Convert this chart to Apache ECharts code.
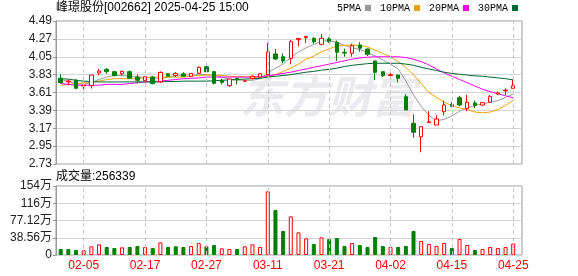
<!DOCTYPE html>
<html><head><meta charset="utf-8">
<script src="https://cdn.jsdelivr.net/npm/echarts@6/dist/echarts.min.js"></script>
<style>html,body{margin:0;padding:0;background:#fff}#c{width:578px;height:276px}</style>
</head><body><div id="c"></div>
<script>
const dates = ['01-23','01-24','01-27','02-05','02-06','02-07','02-10','02-11','02-12','02-13','02-14',
 '02-17','02-18','02-19','02-20','02-21','02-24','02-25','02-26','02-27','02-28',
 '03-03','03-04','03-05','03-06','03-07','03-10','03-11','03-12','03-13','03-14',
 '03-17','03-18','03-19','03-20','03-21','03-24','03-25','03-26','03-27','03-28',
 '03-31','04-01','04-02','04-03','04-07','04-08','04-09','04-10','04-11',
 '04-14','04-15','04-16','04-17','04-18','04-21','04-22','04-23','04-24','04-25'];
const opens  = [3.785,3.74,3.764,3.69,3.694,3.85,3.895,3.866,3.84,3.866,3.80,3.755,3.80,3.743,3.84,3.82,3.84,3.81,3.846,3.927,
 3.866,3.76,3.694,3.785,3.75,3.785,3.80,3.83,4.084,4.05,4.03,4.26,4.285,4.277,4.203,4.27,4.228,4.105,4.092,4.195,
 4.145,3.998,3.866,3.82,3.825,3.558,3.231,3.066,3.24,3.21,3.374,3.46,3.546,3.415,3.48,3.455,3.49,3.59,3.63,3.662];
const closes = [3.731,3.75,3.662,3.70,3.825,3.875,3.866,3.817,3.87,3.785,3.76,3.805,3.72,3.858,3.81,3.845,3.81,3.845,3.92,3.866,
 3.723,3.735,3.776,3.764,3.752,3.81,3.84,4.11,4.022,3.998,4.235,4.275,4.30,4.235,4.277,4.235,4.105,4.095,4.186,4.155,
 4.08,3.858,3.817,3.83,3.785,3.395,3.12,3.189,3.25,3.284,3.456,3.44,3.456,3.49,3.45,3.485,3.558,3.605,3.64,3.694];
const lows   = [3.72,3.70,3.65,3.65,3.66,3.82,3.84,3.81,3.82,3.78,3.72,3.75,3.71,3.73,3.80,3.80,3.80,3.80,3.84,3.85,
 3.71,3.71,3.68,3.71,3.74,3.77,3.79,3.82,4.01,3.97,3.957,4.18,4.22,4.21,4.19,4.22,4.00,4.05,4.05,4.11,
 4.06,3.764,3.80,3.79,3.735,3.395,3.054,2.874,3.24,3.21,3.33,3.43,3.44,3.38,3.42,3.45,3.49,3.58,3.58,3.66];
const highs  = [3.834,3.77,3.77,3.72,3.83,3.90,3.91,3.87,3.88,3.88,3.83,3.81,3.81,3.87,3.85,3.86,3.86,3.85,3.93,3.94,
 3.875,3.78,3.78,3.79,3.76,3.82,3.85,4.22,4.145,4.092,4.256,4.28,4.30,4.29,4.33,4.29,4.25,4.15,4.21,4.23,
 4.15,4.00,3.87,3.86,3.83,3.59,3.342,3.189,3.38,3.33,3.51,3.49,3.57,3.58,3.51,3.49,3.578,3.625,3.66,3.764];
const volumes = [13.4,13.4,11.2,10.4,19.4,23.8,17.9,15.6,17.1,17.9,20.1,17.9,15.6,28.3,17.9,19.4,17.9,20.1,26.8,19.4,
 22.3,14.9,13.4,13.4,19.4,23.8,17.9,142.4,100.6,53.6,86.4,50.7,37.2,24.6,39.5,35.8,38.0,20.1,26.8,22.3,
 17.9,40.2,20.1,17.9,17.9,20.1,53.6,31.3,24.6,20.1,26.8,15.6,35.8,22.3,11.2,13.4,17.9,15.6,17.9,25.63];
const volUp = [0,0,0,1,1,1,0,0,1,0,0,1,0,1,0,0,0,1,1,0,
 0,1,1,0,1,1,1,1,0,0,1,1,1,0,1,0,0,0,1,0,
 0,0,0,1,0,0,0,1,1,1,1,0,1,1,0,1,1,1,1,1];
const ma5 = [3.77,3.75,3.72,3.71,3.73,3.77,3.80,3.82,3.82,3.81,3.80,3.80,3.79,3.78,3.80,3.82,3.825,3.825,3.83,3.83,
 3.82,3.80,3.77,3.765,3.76,3.76,3.78,3.85,3.91,3.96,4.04,4.11,4.16,4.20,4.24,4.25,4.23,4.19,4.16,4.14,
 4.10,4.06,4.01,3.96,3.90,3.75,3.58,3.44,3.33,3.26,3.28,3.32,3.38,3.42,3.45,3.47,3.49,3.51,3.55,3.59];
const ma10 = [3.70,3.71,3.72,3.73,3.73,3.75,3.77,3.78,3.78,3.78,3.78,3.79,3.80,3.80,3.80,3.80,3.80,3.81,3.82,3.825,
 3.825,3.82,3.81,3.805,3.805,3.80,3.80,3.81,3.83,3.87,3.91,3.96,4.02,4.06,4.11,4.15,4.18,4.19,4.195,4.19,
 4.17,4.13,4.09,4.05,3.99,3.92,3.83,3.72,3.61,3.55,3.49,3.45,3.42,3.40,3.37,3.36,3.37,3.40,3.45,3.51];
const ma20 = [3.72,3.71,3.70,3.70,3.70,3.70,3.71,3.71,3.71,3.72,3.73,3.74,3.745,3.75,3.76,3.77,3.78,3.785,3.79,3.80,
 3.80,3.80,3.80,3.80,3.80,3.80,3.805,3.815,3.83,3.845,3.86,3.88,3.90,3.92,3.94,3.96,3.98,4.00,4.02,4.035,
 4.045,4.05,4.05,4.05,4.05,4.04,4.02,3.99,3.95,3.90,3.85,3.81,3.77,3.73,3.69,3.65,3.62,3.595,3.57,3.545];
const ma30 = [3.78,3.775,3.76,3.75,3.745,3.74,3.74,3.74,3.74,3.74,3.74,3.74,3.74,3.74,3.745,3.745,3.75,3.75,3.75,3.75,
 3.755,3.76,3.765,3.77,3.775,3.78,3.785,3.80,3.81,3.82,3.83,3.845,3.86,3.87,3.885,3.895,3.91,3.93,3.945,3.955,
 3.965,3.97,3.97,3.97,3.97,3.96,3.945,3.92,3.90,3.88,3.86,3.845,3.835,3.825,3.815,3.81,3.80,3.79,3.78,3.765];
const labelDates = ['02-05','02-17','02-27','03-11','03-21','04-02','04-15','04-25'];
const priceMin = 2.73, priceMax = 4.49, priceStep = 0.22;
const volMax = 154.24, volStep = 38.56;
const lastVolume = '256339';
const stockTitle = '峰璟股份[002662] 2025-04-25 15:00';

const FONT = '"Liberation Sans","Noto Sans CJK SC",sans-serif';
const RED = '#ff0000', GREEN = '#008000';
const chart = echarts.init(document.getElementById('c'), null, {renderer: 'canvas'});
const slot = 7.67, dataLeft = 56.86, dataWidth = slot * dates.length;
const vlines = {
  silent: true, symbol: ['none','none'], animation: false,
  label: {show: false},
  lineStyle: {type: [4,3], color: '#c8c8c8', width: 1},
  emphasis: {disabled: true},
  data: labelDates.map(d => ({xAxis: d}))
};
const maSeries = (name, data, color) => ({
  name, type: 'line', data, xAxisIndex: 1, yAxisIndex: 1,
  symbol: 'none', showSymbol: false, smooth: false, animation: false,
  lineStyle: {width: 1, color}, itemStyle: {color}, z: 3
});
chart.setOption({
  animation: false,
  textStyle: {fontFamily: FONT},
  title: [
    {text: stockTitle, left: 56, top: 2, padding: 0,
     textStyle: {fontSize: 12, fontWeight: 'normal', color: '#000', fontFamily: FONT}},
    {text: '成交量:' + lastVolume, left: 56, top: 171, padding: 0,
     textStyle: {fontSize: 12, fontWeight: 'normal', color: '#000', fontFamily: FONT}}
  ],
  legend: {
    data: ['5PMA','10PMA','20PMA','30PMA'], left: 337, top: 3, padding: 0,
    itemWidth: 6, itemHeight: 6, itemGap: 9, align: 'right', icon: 'rect',
    selectedMode: false,
    textStyle: {fontFamily: '"Liberation Mono",monospace', fontSize: 10, color: '#000', padding: [0, -1, 0, 0]}
  },
  graphic: [{
    type: 'text', left: 240, top: 74, silent: true, z: -1,
    style: {text: '东方财富', fontSize: 44, fontWeight: 'bold', fontStyle: 'italic',
      fill: '#ebebef', fontFamily: '"Noto Sans CJK SC",sans-serif'}
  }],
  grid: [
    {left: 56, top: 21, width: 466, height: 143, show: true, borderColor: '#999', borderWidth: 1, backgroundColor: 'transparent'},
    {left: dataLeft, top: 21, width: dataWidth, height: 143},
    {left: 56, top: 186, width: 466, height: 69, show: true, borderColor: '#999', borderWidth: 1, backgroundColor: 'transparent'},
    {left: dataLeft, top: 186, width: dataWidth, height: 69}
  ],
  xAxis: [
    {gridIndex: 0, type: 'value', show: false, min: 0, max: 1},
    {gridIndex: 1, type: 'category', data: dates, show: false},
    {gridIndex: 2, type: 'value', show: false, min: 0, max: 1},
    {gridIndex: 3, type: 'category', data: dates,
     axisLine: {show: false}, axisTick: {show: false}, splitLine: {show: false},
     axisLabel: {interval: (i, v) => labelDates.indexOf(v) >= 0, color: RED, fontSize: 12, margin: 5, fontFamily: FONT}}
  ],
  yAxis: [
    {gridIndex: 0, type: 'value', min: priceMin, max: priceMax, interval: priceStep,
     axisLine: {show: true, lineStyle: {color: '#999'}},
     axisTick: {show: true, length: 3, lineStyle: {color: '#999'}},
     axisLabel: {formatter: v => v.toFixed(2), fontSize: 12, color: '#222', margin: 4, fontFamily: FONT},
     splitLine: {show: true, lineStyle: {color: '#d4d4d4', width: 1}}},
    {gridIndex: 1, type: 'value', min: priceMin, max: priceMax, show: false, splitLine: {show: false}},
    {gridIndex: 2, type: 'value', min: 0, max: volMax, interval: volStep,
     axisLine: {show: true, lineStyle: {color: '#999'}},
     axisTick: {show: true, length: 3, lineStyle: {color: '#999'}},
     axisLabel: {fontSize: 12, color: '#222', margin: 4, fontFamily: FONT,
       formatter: v => v === 0 ? '0' : (v >= 100 ? Math.round(v) + '万' : v.toFixed(2) + '万')},
     splitLine: {show: true, lineStyle: {color: '#d4d4d4', width: 1}}},
    {gridIndex: 3, type: 'value', min: 0, max: volMax, show: false, splitLine: {show: false}}
  ],
  series: [
    {type: 'candlestick', xAxisIndex: 1, yAxisIndex: 1, barWidth: 4, z: 4,
     data: dates.map((d, i) => [opens[i], closes[i], lows[i], highs[i]]),
     itemStyle: {color: '#ffffff', color0: GREEN, borderColor: RED, borderColor0: GREEN, borderWidth: 1},
     markLine: vlines},
    maSeries('5PMA', ma5, '#9a9a9a'),
    maSeries('10PMA', ma10, '#f0a000'),
    maSeries('20PMA', ma20, '#ff00ff'),
    maSeries('30PMA', ma30, '#006633'),
    {type: 'bar', xAxisIndex: 3, yAxisIndex: 3, barWidth: 4,
     data: volumes.map((v, i) => ({value: v, itemStyle: volUp[i]
        ? {color: '#ffffff', borderColor: RED, borderWidth: 1}
        : {color: GREEN, borderColor: GREEN, borderWidth: 1}})),
     markLine: vlines}
  ]
});
</script></body></html>
